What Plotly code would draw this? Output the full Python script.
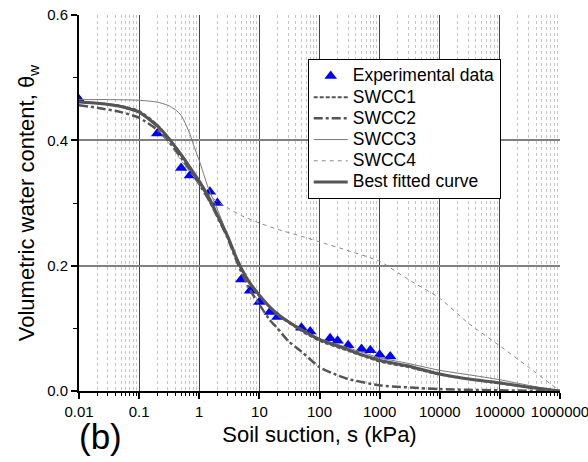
import plotly.graph_objects as go

# ---------------- data ----------------
s_exp = [0.01, 0.2, 0.5, 0.7, 1.5, 2, 5, 7, 10, 15, 20, 50, 70, 150, 200, 300, 500, 700, 1000, 1500]
th_exp = [0.465, 0.411, 0.356, 0.344, 0.318, 0.300, 0.178, 0.160, 0.142, 0.126, 0.118,
          0.101, 0.095, 0.084, 0.080, 0.073, 0.067, 0.065, 0.058, 0.055]

s_best = [0.01, 0.02, 0.05, 0.1, 0.2, 0.3, 0.5, 0.7, 1, 1.5, 2, 3, 4, 5, 7, 10, 15, 20, 30, 50,
          100, 200, 300, 500, 1000, 2000, 3000, 10000, 30000, 100000, 300000, 1000000]
th_best = [0.461, 0.459, 0.454, 0.445, 0.423, 0.405, 0.377, 0.357, 0.335, 0.306, 0.281, 0.246,
           0.216, 0.196, 0.172, 0.153, 0.134, 0.123, 0.111, 0.098, 0.082, 0.072, 0.066, 0.058,
           0.049, 0.043, 0.040, 0.027, 0.019, 0.013, 0.006, 0.0]

s_swcc1 = [0.01, 0.05, 0.1, 0.2, 0.5, 1, 2, 3, 4, 5, 7, 10, 20, 50, 100, 300, 1000, 3000,
           10000, 100000, 1000000]
th_swcc1 = [0.462, 0.455, 0.447, 0.425, 0.378, 0.333, 0.279, 0.244, 0.214, 0.194, 0.170,
            0.151, 0.121, 0.096, 0.080, 0.064, 0.047, 0.038, 0.026, 0.012, 0.0]

s_swcc2 = [0.01, 0.02, 0.05, 0.1, 0.2, 0.3, 0.5, 0.7, 1, 1.5, 2, 3, 4, 5, 7, 10, 15, 20, 30,
           50, 100, 200, 300, 1000, 10000, 100000, 1000000]
th_swcc2 = [0.456, 0.452, 0.445, 0.436, 0.417, 0.400, 0.372, 0.352, 0.330, 0.302, 0.278,
            0.243, 0.212, 0.190, 0.161, 0.138, 0.113, 0.100, 0.080, 0.063, 0.038, 0.025,
            0.019, 0.009, 0.003, 0.001, 0.0]

s_swcc3 = [0.01, 0.03, 0.1, 0.2, 0.3, 0.4, 0.5, 0.6, 0.7, 0.8, 1, 1.4, 2, 3, 4, 5, 7, 10, 20,
           50, 100, 300, 1000, 3000, 10000, 30000, 100000, 300000, 1000000]
th_swcc3 = [0.465, 0.465, 0.464, 0.461, 0.456, 0.449, 0.440, 0.425, 0.410, 0.393, 0.368,
            0.325, 0.290, 0.248, 0.218, 0.197, 0.172, 0.152, 0.123, 0.099, 0.084, 0.069,
            0.053, 0.044, 0.033, 0.026, 0.018, 0.009, 0.0]

s_swcc4 = [0.01, 0.03, 0.1, 0.2, 0.3, 0.5, 0.7, 1, 1.5, 2, 3, 5, 10, 20, 50, 100, 300, 1000,
           3000, 10000, 30000, 100000, 300000, 1000000]
th_swcc4 = [0.462, 0.458, 0.446, 0.420, 0.398, 0.368, 0.350, 0.330, 0.312, 0.302, 0.292,
            0.280, 0.268, 0.258, 0.247, 0.238, 0.224, 0.207, 0.178, 0.148, 0.108, 0.072,
            0.038, 0.0]

series_names = ["Experimental data", "SWCC1", "SWCC2", "SWCC3", "SWCC4", "Best fitted curve"]

FONT = "Liberation Sans, Arial, sans-serif"


def lname(t):
    return "<span style='font-size:17.5px'>" + t + "</span>"


fig = go.Figure()

fig.add_trace(go.Scatter(x=s_exp, y=th_exp, mode="markers", name=lname(series_names[0]),
                         marker=dict(symbol="triangle-up", size=11, color="#0000ff")))
fig.add_trace(go.Scatter(x=s_swcc1, y=th_swcc1, mode="lines", name=lname(series_names[1]),
                         line=dict(color="#555555", width=2, dash="4px,2px", shape="spline", smoothing=0.5)))
fig.add_trace(go.Scatter(x=s_swcc2, y=th_swcc2, mode="lines", name=lname(series_names[2]),
                         line=dict(color="#555555", width=2.5, dash="9px,3px,3px,3px", shape="spline", smoothing=0.5)))
fig.add_trace(go.Scatter(x=s_swcc3, y=th_swcc3, mode="lines", name=lname(series_names[3]),
                         line=dict(color="#777777", width=1, shape="spline", smoothing=0.5)))
fig.add_trace(go.Scatter(x=s_swcc4, y=th_swcc4, mode="lines", name=lname(series_names[4]),
                         line=dict(color="#888888", width=1, dash="4px,4px", shape="spline", smoothing=0.5)))
fig.add_trace(go.Scatter(x=s_best, y=th_best, mode="lines", name=lname(series_names[5]),
                         line=dict(color="#555555", width=3, shape="spline", smoothing=0.5)))

fig.update_layout(
    width=588, height=462,
    margin=dict(l=79, r=28, t=15, b=71),
    paper_bgcolor="white", plot_bgcolor="white",
    font=dict(family=FONT, color="black", size=15),
    showlegend=True,
    legend=dict(x=0.4755, y=0.882, xanchor="left", yanchor="top",
                bgcolor="white", bordercolor="black", borderwidth=1,
                font=dict(family=FONT, size=14, color="black"),
                tracegroupgap=0, itemwidth=34),
    xaxis=dict(type="log", range=[-2, 6], dtick=1, tickformat="~f",
               ticklabeloverflow="allow",
               showline=True, linecolor="black", linewidth=2,
               ticks="outside", ticklen=6, tickwidth=1.5, tickcolor="black",
               tickfont=dict(family=FONT, size=15, color="black"),
               showgrid=True, gridcolor="#444444", gridwidth=1,
               zeroline=False,
               minor=dict(dtick="D1", ticks="outside", ticklen=3, tickwidth=1, tickcolor="black",
                          showgrid=True, gridcolor="#c4c4c4", griddash="dot", gridwidth=1),
               title=dict(text="Soil suction, s (kPa)", font=dict(family=FONT, size=22, color="black"),
                          standoff=8),
               automargin=False),
    yaxis=dict(range=[0, 0.6], dtick=0.2, tickformat=".1f",
               showline=True, linecolor="black", linewidth=2,
               ticks="outside", ticklen=6, tickwidth=1.5, tickcolor="black",
               tickfont=dict(family=FONT, size=15, color="black"),
               showgrid=True, gridcolor="#808080", gridwidth=1.5,
               zeroline=False,
               minor=dict(dtick=0.1, ticks="outside", ticklen=4, tickwidth=1, tickcolor="black",
                          showgrid=False),
               title=dict(text="Volumetric water content, θ<sub>w</sub>",
                          font=dict(family=FONT, size=22, color="black"), standoff=6),
               automargin=False),
    annotations=[dict(text="(b)", xref="paper", yref="paper", x=0.045, y=-0.122,
                      xanchor="center", yanchor="middle", showarrow=False,
                      font=dict(family=FONT, size=35, color="black"))],
)

fig.write_html("out.html")
